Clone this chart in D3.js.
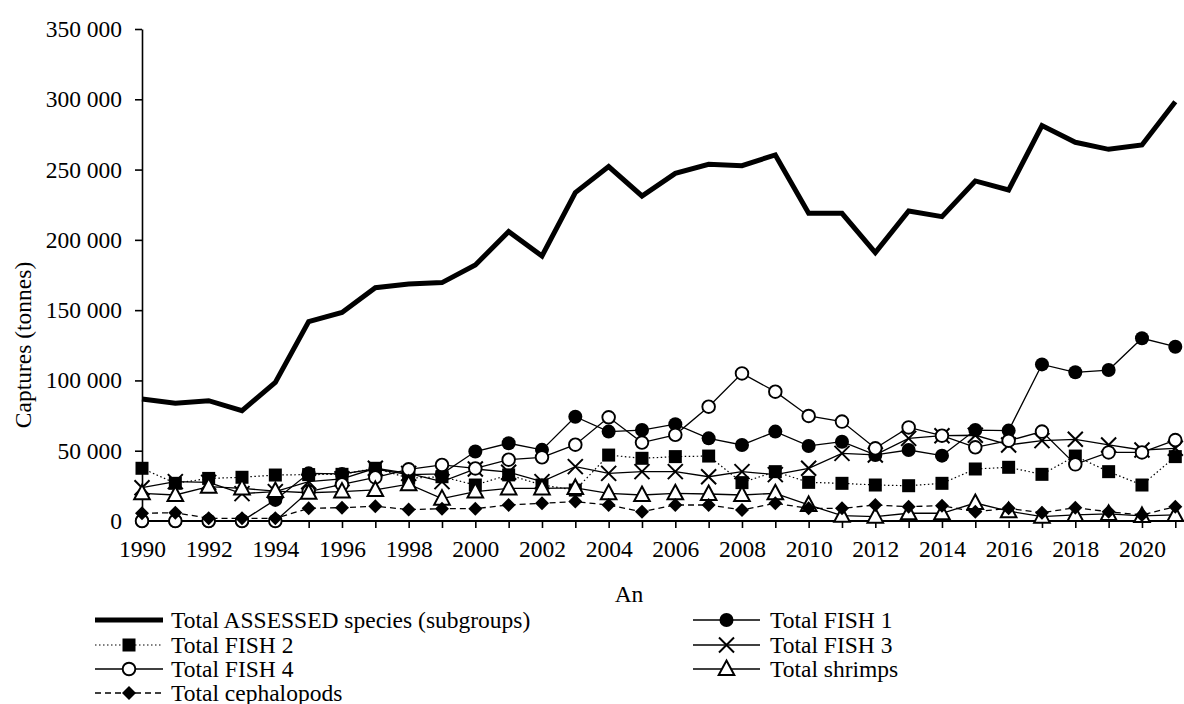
<!DOCTYPE html>
<html><head><meta charset="utf-8">
<script src="https://cdn.jsdelivr.net/npm/d3@7"></script>
<style>
html,body{margin:0;padding:0;background:#fff}
svg{display:block}
</style>
</head><body>
<svg id="c" width="1184" height="704" style="font-family:'Liberation Serif',serif"></svg>
<script>
const years = [1990,1991,1992,1993,1994,1995,1996,1997,1998,1999,2000,2001,2002,2003,2004,2005,2006,2007,2008,2009,2010,2011,2012,2013,2014,2015,2016,2017,2018,2019,2020,2021];
const totalAssessed = [86800,83700,85600,78500,98600,141800,148400,166000,168600,169600,182100,205900,188500,233600,252100,231200,247300,253700,252800,260400,218900,218900,190900,220500,216500,241900,235500,281300,269400,264400,267500,298300];
const fish1 = [0,0,0,0,15000,33900,33500,37000,33000,33500,49400,55300,50600,74200,63600,64700,68900,58800,54100,63600,53400,56400,47000,50500,46500,64700,64300,111400,105800,107400,130000,124000];
const fish2 = [37500,26800,30300,31100,32700,33000,33200,37500,30500,31500,25600,32800,25600,22000,46900,44600,45800,46200,27300,35100,27500,26800,25600,25100,26800,37000,38200,33200,46200,35100,25600,45800];
const fish3 = [23700,28000,27500,19500,20900,28000,30000,37500,33900,28000,37000,34700,28000,38700,33900,35100,35100,31500,35100,33000,37500,48100,47000,58800,60700,61000,54100,57200,58100,54100,50500,51700];
const fish4 = [0,0,0,0,0,20900,26000,31000,36800,39900,37400,43600,45300,54300,73800,55800,61300,81300,105000,92000,74700,70700,51700,66600,60700,52400,57100,63600,40300,48800,48800,57600];
const shrimps = [19700,18500,24400,23200,21300,20100,20900,22100,26200,15900,20900,23200,23200,23500,19700,18500,19700,19200,18500,19700,11400,3800,3100,5500,5500,12800,7000,3100,4300,5000,3600,4300];
const cephalopods = [5500,5900,1900,1900,1900,9000,9500,10500,8100,8800,8800,11400,12600,13800,11400,6600,11400,11400,7900,12600,9000,9000,11400,10200,10900,6600,9000,5900,9500,6600,4300,10200];
const yTicks = [0,50000,100000,150000,200000,250000,300000,350000];
const xTickLabels = [1990,1992,1994,1996,1998,2000,2002,2004,2006,2008,2010,2012,2014,2016,2018,2020];
const seriesNames = ["Total ASSESSED species (subgroups)","Total FISH 1","Total FISH 2","Total FISH 3","Total FISH 4","Total shrimps","Total cephalopods"];

const FONT = "Liberation Serif";
const FS = 23.5;

const series = [
  {name: seriesNames[0], values: totalAssessed, width: 5, dash: null, marker: null},
  {name: seriesNames[1], values: fish1, width: 1.3, dash: null, marker: "fcircle"},
  {name: seriesNames[2], values: fish2, width: 1.2, dash: "1.5,2.5", marker: "square"},
  {name: seriesNames[3], values: fish3, width: 1.3, dash: null, marker: "x"},
  {name: seriesNames[4], values: fish4, width: 1.3, dash: null, marker: "ocircle"},
  {name: seriesNames[5], values: shrimps, width: 1.3, dash: null, marker: "triangle"},
  {name: seriesNames[6], values: cephalopods, width: 1.3, dash: "6,4", marker: "diamond"}
];

const svg = d3.select("#c");
const x = d3.scaleLinear().domain([1990, 2021]).range([142, 1175.3]);
const y = d3.scaleLinear().domain([0, 350000]).range([521, 29]);

const loc = d3.formatLocale({decimal: ",", thousands: " ", grouping: [3], currency: ["", ""]});
const fmt = loc.format(",d");

function styleText(sel) {
  sel.attr("font-family", FONT).style("font-family", "'Liberation Serif', serif")
     .attr("font-size", FS).attr("fill", "#000");
}

// Y axis
const gy = svg.append("g").attr("transform", `translate(${x(1990)},0)`)
  .call(d3.axisLeft(y).tickValues(yTicks).tickSize(7).tickSizeOuter(0).tickPadding(13).tickFormat(fmt));
gy.attr("font-family", FONT).attr("font-size", FS);
gy.select(".domain").attr("stroke-width", 1.6);
gy.selectAll(".tick line").attr("stroke-width", 1.6);
gy.selectAll(".tick text").call(styleText);

// X axis
const gx = svg.append("g").attr("transform", `translate(0,${y(0)})`)
  .call(d3.axisBottom(x).tickValues(years).tickSize(7).tickSizeOuter(0).tickPadding(12)
    .tickFormat(d => xTickLabels.includes(d) ? String(d) : ""));
gx.attr("font-family", FONT).attr("font-size", FS);
gx.select(".domain").remove();
gx.append("line").attr("x1", x(1990)).attr("x2", 1184).attr("y1", 0).attr("y2", 0)
  .attr("stroke", "#000").attr("stroke-width", 2);
gx.selectAll(".tick line").attr("stroke-width", 1.6);
gx.selectAll(".tick text").call(styleText);

// Axis titles
svg.append("text").attr("x", 629).attr("y", 602).attr("text-anchor", "middle")
  .call(styleText).text("An");
svg.append("text").attr("transform", "translate(31,345) rotate(-90)").attr("text-anchor", "middle")
  .call(styleText).text("Captures (tonnes)");

// Marker drawing
function drawMarker(g, type, cx, cy) {
  if (type === "fcircle") {
    g.append("circle").attr("cx", cx).attr("cy", cy).attr("r", 7).attr("fill", "#000");
  } else if (type === "ocircle") {
    g.append("circle").attr("cx", cx).attr("cy", cy).attr("r", 6.3).attr("fill", "#fff")
      .attr("stroke", "#000").attr("stroke-width", 1.9);
  } else if (type === "square") {
    g.append("rect").attr("x", cx - 6.5).attr("y", cy - 6.5).attr("width", 13).attr("height", 13).attr("fill", "#000");
  } else if (type === "x") {
    const s = 7.5;
    g.append("path").attr("d", `M${cx-s},${cy-s}L${cx+s},${cy+s}M${cx-s},${cy+s}L${cx+s},${cy-s}`)
      .attr("stroke", "#000").attr("stroke-width", 2).attr("fill", "none");
  } else if (type === "triangle") {
    g.append("path").attr("d", `M${cx},${cy-8.5}L${cx+7.8},${cy+6}L${cx-7.8},${cy+6}Z`)
      .attr("fill", "#fff").attr("stroke", "#000").attr("stroke-width", 2).attr("stroke-linejoin", "miter");
  } else if (type === "diamond") {
    const s = 7;
    g.append("path").attr("d", `M${cx},${cy-s}L${cx+s},${cy}L${cx},${cy+s}L${cx-s},${cy}Z`).attr("fill", "#000");
  }
}

const line = d3.line().x((d, i) => x(years[i])).y(d => y(d));

const plot = svg.append("g");
series.forEach(s => {
  const g = plot.append("g");
  g.append("path").attr("d", line(s.values)).attr("fill", "none").attr("stroke", "#000")
    .attr("stroke-width", s.width).attr("stroke-dasharray", s.dash)
    .attr("stroke-linejoin", "miter");
  if (s.marker) s.values.forEach((v, i) => drawMarker(g, s.marker, x(years[i]), y(v)));
});

// Legend
const legendLayout = [
  {col: 0, row: 0}, {col: 1, row: 0}, {col: 0, row: 1}, {col: 1, row: 1},
  {col: 0, row: 2}, {col: 1, row: 2}, {col: 0, row: 3}
];
const colX = [[95, 163, 171], [693, 760, 770]];
const rowY = [620, 645, 669, 693];
const lg = svg.append("g");
series.forEach((s, i) => {
  const L = legendLayout[i];
  const [x1, x2, tx] = colX[L.col];
  const yy = rowY[L.row];
  lg.append("line").attr("x1", x1).attr("x2", x2).attr("y1", yy).attr("y2", yy)
    .attr("stroke", "#000").attr("stroke-width", s.width).attr("stroke-dasharray", s.dash);
  if (s.marker) drawMarker(lg, s.marker, (x1 + x2) / 2, yy);
  lg.append("text").attr("x", tx).attr("y", yy + 7.5).call(styleText).text(s.name);
});
</script>
</body></html>
